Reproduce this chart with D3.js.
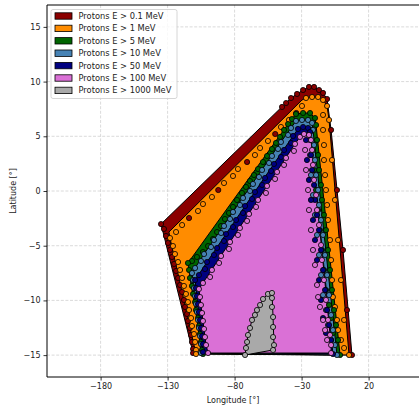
<!DOCTYPE html>
<html>
<head>
<meta charset="utf-8">
<script src="https://cdn.jsdelivr.net/npm/d3@7"></script>
<style>
    html, body { margin: 0; padding: 0; background: #fff; }
    svg { display: block; font-family: "DejaVu Sans", sans-serif; }
</style>
</head>
<body>
<svg id="chart" width="419" height="406"></svg>
<script>
// ---- data -------------------------------------------------------------
const energyLabels = [
    'Protons E > 0.1 MeV',
    'Protons E > 1 MeV',
    'Protons E > 5 MeV',
    'Protons E > 10 MeV',
    'Protons E > 50 MeV',
    'Protons E > 100 MeV',
    'Protons E > 1000 MeV',
]

const xTicks = [-180, -130, -80, -30, 20]
const yTicks = [-15, -10, -5, 0, 5, 10, 15]

// boundary points [longitude, latitude] for each energy
const cutoff01MeV = [
    [-33.4, 8.87], [-28.9, 9.23], [-24.5, 9.51], [-20.7, 9.51], [-17.0, 9.23], [-14.0, 8.96], [-11.0, 8.41],
    [-37.9, 8.50], [-41.6, 8.04], [-44.6, 7.68],
    [-114.0, -2.47], [-92.2, 0.09], [-70.7, 2.65], [-49.7, 5.21], [-34.0, 7.13],
    [-134.9, -3.02], [-132.7, -3.47], [-131.2, -4.11], [-129.7, -4.75], [-128.2, -5.39], [-126.7, -6.03],
    [-125.2, -6.67], [-123.7, -7.31], [-122.2, -7.95], [-120.7, -8.59], [-119.2, -9.23], [-117.8, -9.96],
    [-117.0, -10.60], [-115.5, -11.24], [-114.8, -11.88], [-113.3, -12.52], [-112.5, -13.16], [-111.8, -13.80],
    [-111.0, -14.44], [-111.0, -14.81],
    [-8.0, 5.58], [-3.6, 0.09], [0.9, -5.39], [3.9, -10.88], [7.6, -14.99],
]
const cutoff1MeV = [
    [-26.7, 8.50], [-22.2, 8.59], [-17.7, 8.59], [-14.0, 8.32], [-11.0, 7.77],
    [-123.7, -3.75], [-119.2, -3.11], [-107.3, -1.83], [-103.6, -1.19], [-96.9, -0.55], [-87.9, 0.73],
    [-81.2, 1.37], [-77.5, 2.01], [-64.8, 3.29], [-61.0, 3.93], [-55.1, 4.57], [-45.4, 5.85], [-39.4, 6.49],
    [-29.7, 7.77],
    [-128.2, -4.30], [-126.0, -5.03], [-124.5, -5.76], [-122.2, -6.49], [-120.7, -7.22], [-119.2, -7.95],
    [-117.8, -8.68], [-116.3, -9.41], [-114.8, -10.15], [-114.0, -10.88], [-112.5, -11.61], [-111.8, -12.34],
    [-110.3, -13.07], [-109.5, -13.80], [-108.8, -14.53], [-108.8, -14.90],
    [-9.5, 6.49], [-7.3, 2.83], [-5.1, -0.82], [-2.8, -4.48], [-0.6, -8.14], [1.7, -11.79], [5.4, -14.99],
    [-14.0, 6.95], [-14.0, 5.58], [-13.3, 4.20], [-13.3, 2.83], [-12.5, 1.46], [-11.8, 0.09], [-11.0, -1.28],
    [-10.3, -2.65], [-8.8, -4.48], [-8.0, -6.31], [-7.3, -8.14], [-6.6, -9.69], [-5.1, -10.60], [-3.6, -11.79],
    [-2.8, -12.71], [-0.6, -13.62], [1.7, -14.35],
]
// unmarked corners of the 1 MeV region
const corners1MeV = [[-129.0, -3.75], [-29.7, 8.32]]

const cutoff5MeV = [
    [-34.2, 7.04], [-28.9, 7.13], [-23.7, 7.13], [-20.0, 6.67],
    [-37.2, 6.58], [-40.1, 6.12], [-43.1, 5.58], [-46.1, 4.94], [-49.1, 4.39], [-52.1, 3.84], [-55.8, 3.20],
    [-58.8, 2.65], [-62.5, 2.01], [-65.5, 1.46], [-68.5, 0.91], [-71.5, 0.37], [-74.5, -0.18], [-78.2, -0.82],
    [-81.2, -1.46], [-84.2, -2.01], [-87.2, -2.56], [-90.1, -3.20], [-93.1, -3.75], [-96.1, -4.39],
    [-99.8, -5.03], [-103.6, -5.58], [-108.1, -6.03], [-111.8, -6.40], [-114.8, -6.58],
    [-114.0, -7.22], [-113.3, -7.95], [-111.8, -8.68], [-111.0, -9.41], [-109.5, -10.15], [-108.8, -10.88],
    [-107.3, -11.61], [-106.6, -12.34], [-105.8, -13.07], [-105.1, -13.80], [-104.3, -14.53], [-103.6, -14.90],
    [-19.2, 6.03], [-18.5, 4.66], [-17.7, 3.29], [-17.0, 1.92], [-15.5, 0.55], [-14.8, -0.82], [-13.3, -2.19],
    [-11.8, -3.57], [-10.3, -5.39], [-8.8, -7.22], [-7.3, -9.05], [-5.8, -10.88], [-4.3, -12.25], [-2.8, -13.62],
    [-1.3, -14.99],
    [-22.2, 5.58], [-21.5, 3.75], [-20.7, 1.92], [-19.2, 0.09], [-17.7, -1.74], [-16.3, -3.57], [-14.8, -5.39],
    [-13.3, -7.22], [-11.8, -9.05], [-9.5, -10.42], [-8.0, -11.61], [-6.6, -12.98],
]
const cutoff10MeV = [
    [-34.2, 6.40], [-29.7, 6.49], [-25.2, 6.49], [-22.2, 6.22],
    [-37.9, 5.76], [-40.1, 5.12], [-45.4, 4.48], [-47.6, 3.84], [-52.1, 3.20], [-54.3, 2.56], [-59.5, 1.92],
    [-61.8, 1.28], [-66.3, 0.64], [-68.5, 0.00], [-73.7, -0.64], [-76.0, -1.28], [-81.2, -1.92], [-83.4, -2.56],
    [-87.9, -3.20], [-90.1, -3.84], [-95.4, -4.48], [-97.6, -5.12], [-102.8, -5.76], [-105.1, -6.40],
    [-109.5, -7.04], [-111.8, -7.50],
    [-111.0, -8.14], [-110.3, -8.87], [-109.5, -9.60], [-108.8, -10.33], [-108.1, -11.06], [-107.3, -11.79],
    [-106.6, -12.52], [-105.8, -13.26], [-105.1, -13.99], [-105.1, -14.81],
    [-21.5, 5.58], [-20.7, 4.20], [-20.0, 2.83], [-19.2, 1.46], [-17.7, 0.09], [-17.0, -1.28], [-15.5, -2.65],
    [-14.0, -4.02], [-12.5, -5.85], [-11.0, -7.68], [-9.5, -9.51], [-8.0, -11.33], [-6.6, -12.71], [-5.1, -14.08],
    [-3.6, -14.99],
    [-24.5, 5.12], [-23.7, 3.29], [-23.0, 1.46], [-21.5, -0.37], [-20.0, -2.19], [-18.5, -4.02], [-17.0, -5.85],
    [-15.5, -7.68], [-14.0, -9.51], [-11.8, -10.88], [-10.3, -12.25], [-8.0, -13.62],
]
const cutoff50MeV = [
    [-32.7, 5.67], [-28.9, 5.85], [-25.2, 5.76], [-23.7, 5.39],
    [-36.4, 5.03], [-37.9, 4.39], [-43.1, 3.75], [-45.4, 3.11], [-50.6, 2.47], [-52.8, 1.83], [-57.3, 1.19],
    [-59.5, 0.55], [-64.8, -0.09], [-67.0, -0.73], [-72.2, -1.37], [-73.7, -2.01], [-78.9, -2.65], [-81.2, -3.29],
    [-86.4, -3.93], [-87.9, -4.57], [-93.1, -5.21], [-95.4, -5.85], [-100.6, -6.49], [-102.1, -7.13],
    [-106.6, -7.68], [-109.5, -8.14],
    [-108.8, -8.87], [-108.1, -9.60], [-107.3, -10.33], [-106.6, -11.06], [-105.8, -11.79], [-105.1, -12.52],
    [-104.3, -13.26], [-103.6, -13.99], [-103.6, -14.72],
    [-23.7, 4.66], [-23.0, 3.29], [-22.2, 1.92], [-20.7, 0.55], [-20.0, -0.82], [-18.5, -2.19], [-17.0, -3.57],
    [-15.5, -5.39], [-14.0, -7.22], [-12.5, -9.05], [-11.0, -10.88], [-9.5, -12.25], [-8.0, -13.62], [-6.6, -14.90],
    [-26.7, 4.66], [-26.0, 2.83], [-24.5, 1.01], [-23.0, -0.82], [-21.5, -2.65], [-20.0, -4.48], [-18.5, -6.31],
    [-17.0, -8.14], [-15.5, -9.96], [-14.0, -11.61], [-11.8, -12.98],
]
const cutoff100MeV = [
    [-31.2, 4.94], [-28.2, 5.21], [-24.5, 5.12], [-23.0, 4.66],
    [-34.9, 4.30], [-35.7, 3.66], [-41.6, 3.02], [-43.1, 2.38], [-48.3, 1.74], [-49.8, 1.10], [-55.8, 0.46],
    [-56.6, -0.18], [-62.5, -0.82], [-64.0, -1.46], [-69.2, -2.10], [-70.7, -2.74], [-76.0, -3.38], [-77.5, -4.02],
    [-83.4, -4.66], [-84.2, -5.30], [-90.1, -5.94], [-91.6, -6.58], [-96.9, -7.22], [-98.3, -7.86],
    [-103.6, -8.41], [-106.6, -8.96],
    [-105.8, -9.69], [-105.1, -10.42], [-104.3, -11.15], [-103.6, -11.88], [-102.8, -12.61], [-102.1, -13.35],
    [-101.3, -14.08], [-99.8, -14.81],
    [-22.2, 3.75], [-21.5, 2.38], [-20.7, 1.01], [-19.2, -0.37], [-18.5, -1.74], [-17.0, -3.11], [-15.5, -4.94],
    [-14.8, -6.31], [-13.3, -8.14], [-11.8, -9.96], [-10.3, -11.79], [-8.8, -13.16], [-8.0, -14.08], [-8.0, -14.81],
    [-27.4, 3.75], [-26.7, 1.92], [-25.2, 0.09], [-24.5, -1.74], [-23.0, -3.57], [-21.5, -5.39], [-20.0, -6.76],
    [-18.5, -8.59], [-17.7, -9.69], [-16.3, -10.60], [-14.0, -11.79], [-12.5, -12.71], [-11.0, -13.62],
]
const cutoff1000MeV = [
    [-72.2, -14.99], [-71.5, -14.35], [-70.7, -13.80], [-70.0, -13.16], [-68.5, -12.52], [-67.0, -11.79],
    [-64.8, -11.33], [-63.3, -10.88], [-61.0, -10.42], [-58.8, -9.87], [-55.1, -9.41], [-52.1, -9.32],
    [-52.1, -9.78], [-52.1, -10.60], [-51.3, -11.52], [-51.3, -12.43], [-51.3, -13.35], [-50.6, -14.08],
    [-51.3, -14.53],
]

const seriesPoints = [cutoff01MeV, cutoff1MeV, cutoff5MeV, cutoff10MeV, cutoff50MeV, cutoff100MeV, cutoff1000MeV]
const seriesCorners = [[], corners1MeV, [], [], [], [], []]
const fillColors = ['#8b0000', '#ff8c00', '#006400', '#4682b4', '#000080', '#da70d6', '#a9a9a9']

// ---- layout -------------------------------------------------------------
const plot = { left: 47, top: 5, bottom: 377 }
const pxPerLon = 1.34

const svg = d3.select('#chart')

const x = d3.scaleLinear()
    .domain([-220, 60])
    .range([plot.left, plot.left + 280 * pxPerLon])
const y = d3.scaleLinear()
    .domain([-17, 17])
    .range([plot.bottom, plot.top])

const minusFormat = d => (d < 0 ? '\u2212' + Math.abs(d) : String(d))

svg.append('defs').append('clipPath').attr('id', 'plot-clip')
    .append('rect')
    .attr('x', x.range()[0])
    .attr('y', plot.top)
    .attr('width', x.range()[1] - x.range()[0])
    .attr('height', plot.bottom - plot.top)

// grid
const grid = svg.append('g').attr('clip-path', 'url(#plot-clip)')
grid.selectAll('line.gx').data(xTicks).join('line')
    .attr('x1', d => x(d)).attr('x2', d => x(d))
    .attr('y1', plot.top).attr('y2', plot.bottom)
grid.selectAll('line.gy').data(yTicks).join('line')
    .attr('x1', x.range()[0]).attr('x2', x.range()[1])
    .attr('y1', d => y(d)).attr('y2', d => y(d))
grid.selectAll('line')
    .attr('stroke', '#d0d0d0')
    .attr('stroke-width', 0.8)
    .attr('stroke-dasharray', '3,1.6')

/**
 * Appends the filled hull of one energy's boundary points (plus unmarked corners)
 */
const appendRegion = (group, points, corners, fill) => {
    const hull = d3.polygonHull(points.concat(corners).map(p => [x(p[0]), y(p[1])]))
    group.append('path')
        .attr('d', 'M' + hull.join('L') + 'Z')
        .attr('fill', fill)
        .attr('stroke', '#000')
        .attr('stroke-width', 1)
        .attr('stroke-linejoin', 'round')
}

/**
 * Appends the circle markers of one energy's boundary points
 */
const appendMarkers = (group, points, fill) => {
    group.append('g').selectAll('circle').data(points).join('circle')
        .attr('cx', d => x(d[0]))
        .attr('cy', d => y(d[1]))
        .attr('r', 2.6)
        .attr('fill', fill)
        .attr('stroke', '#000')
        .attr('stroke-width', 0.8)
}

const regions = svg.append('g').attr('clip-path', 'url(#plot-clip)')
seriesPoints.forEach((pts, i) => appendRegion(regions, pts, seriesCorners[i], fillColors[i]))
seriesPoints.forEach((pts, i) => appendMarkers(regions, pts, fillColors[i]))

// axes
const xAxis = svg.append('g').attr('transform', `translate(0,${plot.bottom})`)
xAxis.call(d3.axisBottom(x).tickValues(d3.range(-210, 60, 10)).tickSize(2).tickFormat(''))
xAxis.call(d3.axisBottom(x).tickValues(xTicks).tickSize(3.5).tickPadding(3).tickFormat(minusFormat))

const yAxis = svg.append('g').attr('transform', `translate(${plot.left},0)`)
yAxis.call(d3.axisLeft(y).tickValues(d3.range(-16, 17, 1)).tickSize(2).tickFormat(''))
yAxis.call(d3.axisLeft(y).tickValues(yTicks).tickSize(3.5).tickPadding(3).tickFormat(minusFormat))

svg.selectAll('.domain').remove()
svg.selectAll('.tick line').attr('stroke', '#000').attr('stroke-width', 0.8)
svg.selectAll('.tick text').attr('font-size', 8).attr('fill', '#222').attr('font-family', '"DejaVu Sans", sans-serif')

// frame (right spine lies beyond the cropped edge)
svg.append('path')
    .attr('d', `M${x.range()[1]},${plot.top}H${plot.left}V${plot.bottom}H${x.range()[1]}`)
    .attr('fill', 'none')
    .attr('stroke', '#000')
    .attr('stroke-width', 1)

svg.append('text')
    .attr('x', 233).attr('y', 403)
    .attr('text-anchor', 'middle')
    .attr('font-size', 8)
    .attr('fill', '#222')
    .text('Longitude [\u00b0]')
svg.append('text')
    .attr('transform', 'translate(16,191) rotate(-90)')
    .attr('text-anchor', 'middle')
    .attr('font-size', 8)
    .attr('fill', '#222')
    .text('Latitude [\u00b0]')

// legend
const legend = svg.append('g').attr('transform', 'translate(51,9.5)')
legend.append('rect')
    .attr('width', 126).attr('height', 89)
    .attr('rx', 2)
    .attr('fill', '#fff').attr('fill-opacity', 0.8)
    .attr('stroke', '#cccccc').attr('stroke-width', 0.8)
const rows = legend.selectAll('g.row').data(energyLabels).join('g')
    .attr('transform', (d, i) => `translate(0,${6.5 + i * 12.4})`)
rows.append('rect')
    .attr('x', 4).attr('y', -3.2)
    .attr('width', 17).attr('height', 6.4)
    .attr('fill', (d, i) => fillColors[i])
    .attr('stroke', '#000').attr('stroke-width', 0.8)
rows.append('text')
    .attr('x', 27.5).attr('y', 3)
    .attr('font-size', 8.3)
    .attr('fill', '#222')
    .text(d => d)
</script>
</body>
</html>
